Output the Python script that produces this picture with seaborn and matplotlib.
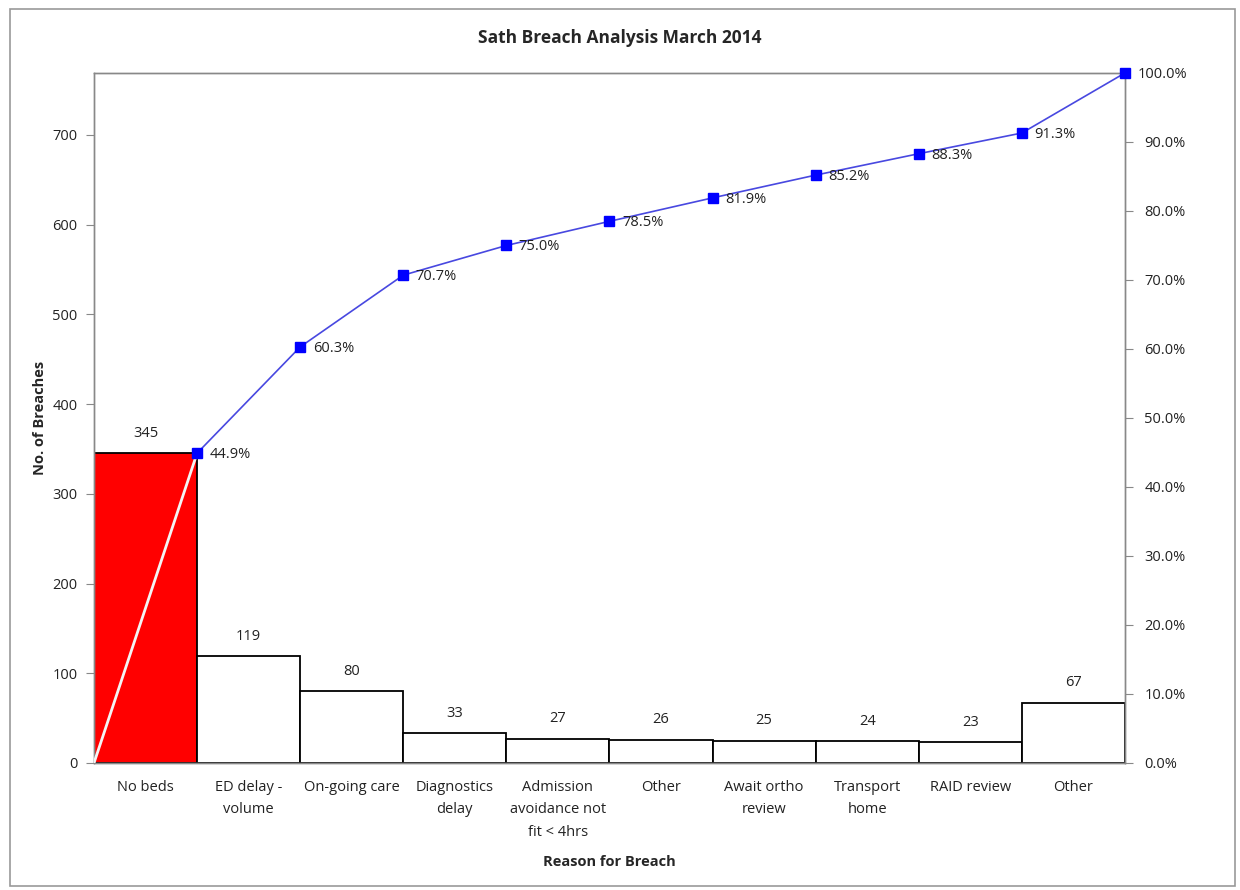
import matplotlib
matplotlib.use("Agg")
import matplotlib.pyplot as plt
from matplotlib.patches import Rectangle
from matplotlib.ticker import FixedLocator, PercentFormatter
import numpy as np
import seaborn as sns

reasons = ["No beds", "ED delay -\nvolume", "On-going care", "Diagnostics\ndelay",
           "Admission\navoidance not\nfit < 4hrs", "Other", "Await ortho\nreview",
           "Transport\nhome", "RAID review", "Other"]
breaches = [345, 119, 80, 33, 27, 26, 25, 24, 23, 67]
cum_pct = [44.9, 60.3, 70.7, 75.0, 78.5, 81.9, 85.2, 88.3, 91.3, 100.0]
left_ticks = [0, 100, 200, 300, 400, 500, 600, 700]
right_ticks = [0, 10, 20, 30, 40, 50, 60, 70, 80, 90]

sns.set_style("white")
plt.rcParams["font.family"] = ["Open Sans", "DejaVu Sans"]

fig = plt.figure(figsize=(12.4, 8.9), dpi=100)
ax = fig.add_axes([0.0758, 0.1427, 0.8314, 0.7753])

total = sum(breaches)
idx = list(range(len(breaches)))
colors = ["#ff0000"] + ["white"] * (len(breaches) - 1)
sns.barplot(x=idx, y=breaches, hue=idx, palette=colors, width=1.0,
            edgecolor="black", linewidth=1.3, legend=False, ax=ax, saturation=1)

ax.set_xlim(-0.5, len(breaches) - 0.5)
ax.set_ylim(0, total)
ax.yaxis.set_major_locator(FixedLocator(left_ticks))

for i, v in enumerate(breaches):
    ax.annotate(str(v), (i, v), xytext=(0, 9), textcoords="offset points",
                ha="center", va="bottom", fontsize=10.5, color="#222222")

# category labels centred, tick marks on the bar boundaries
ax.set_xticks(idx)
ax.set_xticklabels(reasons, fontsize=10.5, color="#222222", linespacing=1.7)
ax.tick_params(axis="x", which="major", length=0, pad=12)
ax.set_xticks(np.arange(-0.5, len(breaches)), minor=True)
ax.tick_params(axis="x", which="minor", length=6, direction="out", color="#888888")
ax.tick_params(axis="y", length=6, direction="out", color="#888888",
               labelsize=10.5, labelcolor="#222222", pad=6)

ax.set_xlabel("Reason for Breach", fontsize=10.5, fontweight="bold", labelpad=11)
ax.set_ylabel("No. of Breaches", fontsize=10.5, fontweight="bold", labelpad=4)

# cumulative percentage on the secondary axis
ax2 = ax.twinx()
ax2.set_ylim(0, 100)
ax2.yaxis.set_major_locator(FixedLocator(right_ticks))
ax2.yaxis.set_major_formatter(PercentFormatter(decimals=1))
ax2.tick_params(axis="y", length=6, direction="out", color="#888888",
                labelsize=10.5, labelcolor="#222222", pad=8)

xs = [i + 0.5 for i in idx]
ax2.plot([-0.5, xs[0]], [0, cum_pct[0]], color="#f4f4f4", lw=2.0, zorder=3)
ax2.plot(xs, cum_pct, color="#4848e0", lw=1.2, zorder=3)
ax2.plot(xs, cum_pct, ls="none", marker="s", ms=7.5, color="#0000ff", zorder=4,
         clip_on=False)
for x, p in zip(xs, cum_pct):
    ax2.annotate(f"{p:.1f}%", (x, p), xytext=(9, -1), textcoords="offset points",
                 ha="left", va="center", fontsize=10.5, color="#222222")

for a in (ax, ax2):
    for s in a.spines.values():
        s.set_color("#888888")
        s.set_linewidth(1.0)

fig.suptitle("Sath Breach Analysis March 2014", y=0.967, fontsize=12.5,
             fontweight="bold")

fig.patches.append(Rectangle((0.008, 0.004), 0.988, 0.986, transform=fig.transFigure,
                             fill=False, edgecolor="#999999", lw=1.2))

fig.savefig("out.png", dpi=100, facecolor="white")
